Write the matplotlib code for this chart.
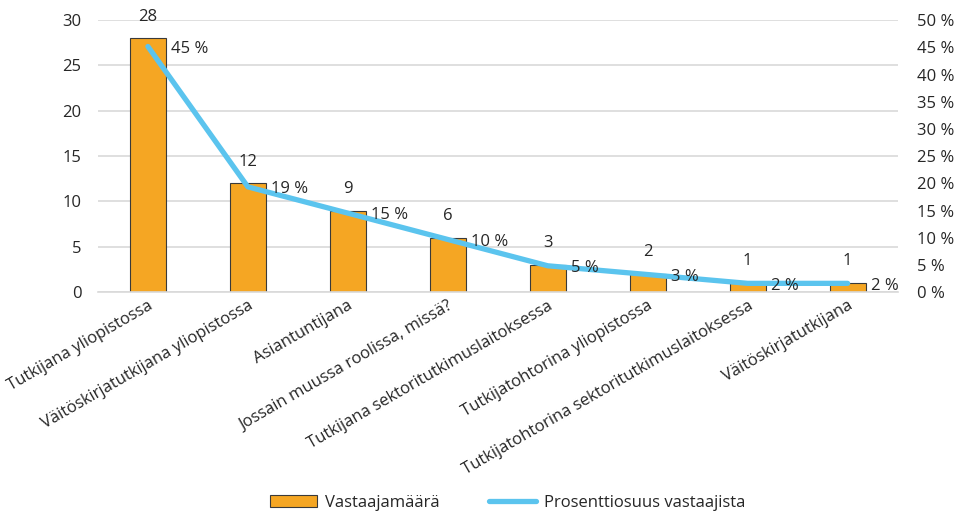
import math
import matplotlib.pyplot as plt
from matplotlib.lines import Line2D
from matplotlib.patches import Patch

plt.rcParams['font.family'] = ['Open Sans', 'DejaVu Sans']

categories = [
    "Tutkijana yliopistossa",
    "Väitöskirjatutkijana yliopistossa",
    "Asiantuntijana",
    "Jossain muussa roolissa, missä?",
    "Tutkijana sektoritutkimuslaitoksessa",
    "Tutkijatohtorina yliopistossa",
    "Tutkijatohtorina sektoritutkimuslaitoksessa",
    "Väitöskirjatutkijana",
]
counts = [28, 12, 9, 6, 3, 2, 1, 1]
shares = [45.16, 19.35, 14.52, 9.68, 4.84, 3.23, 1.61, 1.61]

c_bar = '#F5A623'
c_line = '#5BC4EE'
c_text = '#262626'
c_grid = '#D9D9D9'

fig = plt.figure(figsize=(9.6, 5.17), dpi=100)
ax = fig.add_axes([0.102, 0.435, 0.833, 0.526])
ax2 = ax.twinx()

x = list(range(len(categories)))
ax.bar(x, counts, width=0.36, color=c_bar, edgecolor='#3a3a3a', linewidth=0.8, zorder=2)
ax.set_xlim(-0.5, len(categories) - 0.5)
ax.set_ylim(0, 30)
ax.set_yticks(range(0, 31, 5))
ax.grid(axis='y', color=c_grid, linewidth=1.2, zorder=0)
ax.set_axisbelow(True)
for s in ['top', 'left', 'right']:
    ax.spines[s].set_visible(False)
ax.spines['bottom'].set_color(c_grid)
ax.spines['bottom'].set_linewidth(1.2)
ax.tick_params(axis='x', length=0, labelsize=12, colors=c_text, pad=4)
ax.tick_params(axis='y', length=0, labelsize=12, colors=c_text, pad=12)
ax.set_xticks(x)
ax.set_xticklabels(categories, rotation=30, ha='right', rotation_mode='anchor')

for xi, c in zip(x, counts):
    ax.text(xi, c + 1.5, str(c), ha='center', va='bottom', fontsize=12, color=c_text)

ax2.plot(x, shares, color=c_line, linewidth=3.8, solid_capstyle='round', zorder=3)
ax2.set_ylim(0, 50)
ax2.set_yticks(range(0, 51, 5))
ax2.set_yticklabels([f"{v} %" for v in range(0, 51, 5)])
for s in ['top', 'left', 'right', 'bottom']:
    ax2.spines[s].set_visible(False)
ax2.tick_params(axis='y', length=0, labelsize=12, colors=c_text, pad=14)
for xi, p in zip(x, shares):
    ax2.text(xi + 0.23, p - 0.4, f"{math.floor(p + 0.5)} %", ha='left', va='center',
             fontsize=12, color=c_text)

handles = [
    Patch(facecolor=c_bar, edgecolor='#3a3a3a', linewidth=0.8),
    Line2D([0], [0], color=c_line, linewidth=3.8, solid_capstyle='round'),
]
fig.legend(handles, ["Vastaajamäärä", "Prosenttiosuus vastaajista"],
           loc='center', bbox_to_anchor=(0.529, 0.027), ncol=2, frameon=False,
           fontsize=12, handlelength=2.8, handletextpad=0.5, columnspacing=3.0,
           labelcolor=c_text)

fig.savefig("out.png", dpi=100)
